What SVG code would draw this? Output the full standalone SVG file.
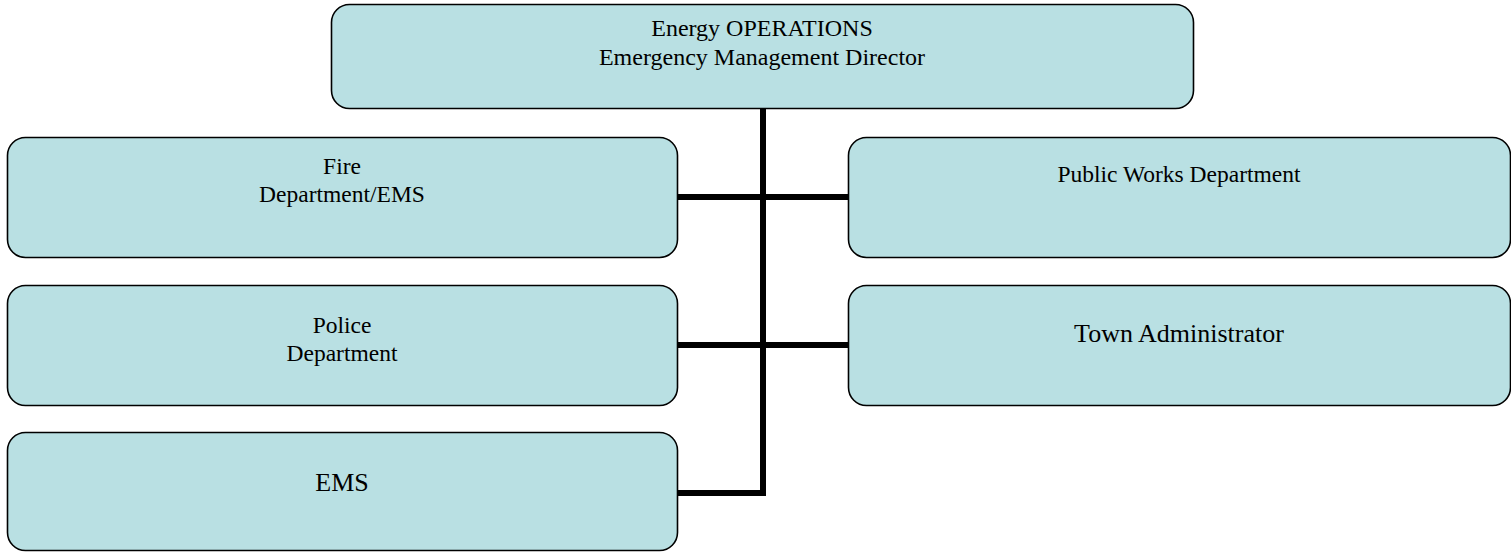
<svg xmlns="http://www.w3.org/2000/svg" width="1511" height="552" viewBox="0 0 1511 552">
<style>
.box{fill:#b9e0e3;stroke:#000;stroke-width:1.6}
.t{font-family:"Liberation Serif","Times New Roman",serif;font-size:23.5px;fill:#000;text-anchor:middle}
.tt{font-family:"Liberation Serif","Times New Roman",serif;font-size:24px;fill:#000;text-anchor:middle}
.tl{font-family:"Liberation Serif","Times New Roman",serif;font-size:26px;fill:#000;text-anchor:middle}
.c{stroke:#000;stroke-width:6;fill:none}
</style>
<rect width="1511" height="552" fill="#fff"/>
<g id="connectors">
<path class="c" d="M763,108 V493 H677"/>
<path class="c" d="M677,197 H848"/>
<path class="c" d="M677,345 H848"/>
</g>
<g id="director">
<rect class="box" x="331.5" y="4.5" width="862" height="104" rx="18"/>
<text class="tt" x="762" y="36">Energy OPERATIONS</text>
<text class="tt" x="762" y="65">Emergency Management Director</text>
</g>
<g id="fire">
<rect class="box" x="7.5" y="137.5" width="670" height="120" rx="18"/>
<text class="t" x="342" y="174">Fire</text>
<text class="t" x="342" y="202">Department/EMS</text>
</g>
<g id="publicworks">
<rect class="box" x="848.5" y="137.5" width="662" height="120" rx="18"/>
<text class="t" x="1179" y="182">Public Works Department</text>
</g>
<g id="police">
<rect class="box" x="7.5" y="285.5" width="670" height="120" rx="18"/>
<text class="t" x="342" y="333">Police</text>
<text class="t" x="342" y="361">Department</text>
</g>
<g id="townadmin">
<rect class="box" x="848.5" y="285.5" width="662" height="120" rx="18"/>
<text class="tl" x="1179" y="342">Town Administrator</text>
</g>
<g id="ems">
<rect class="box" x="7.5" y="432.5" width="670" height="118" rx="18"/>
<text class="tl" x="342" y="491">EMS</text>
</g>
</svg>
